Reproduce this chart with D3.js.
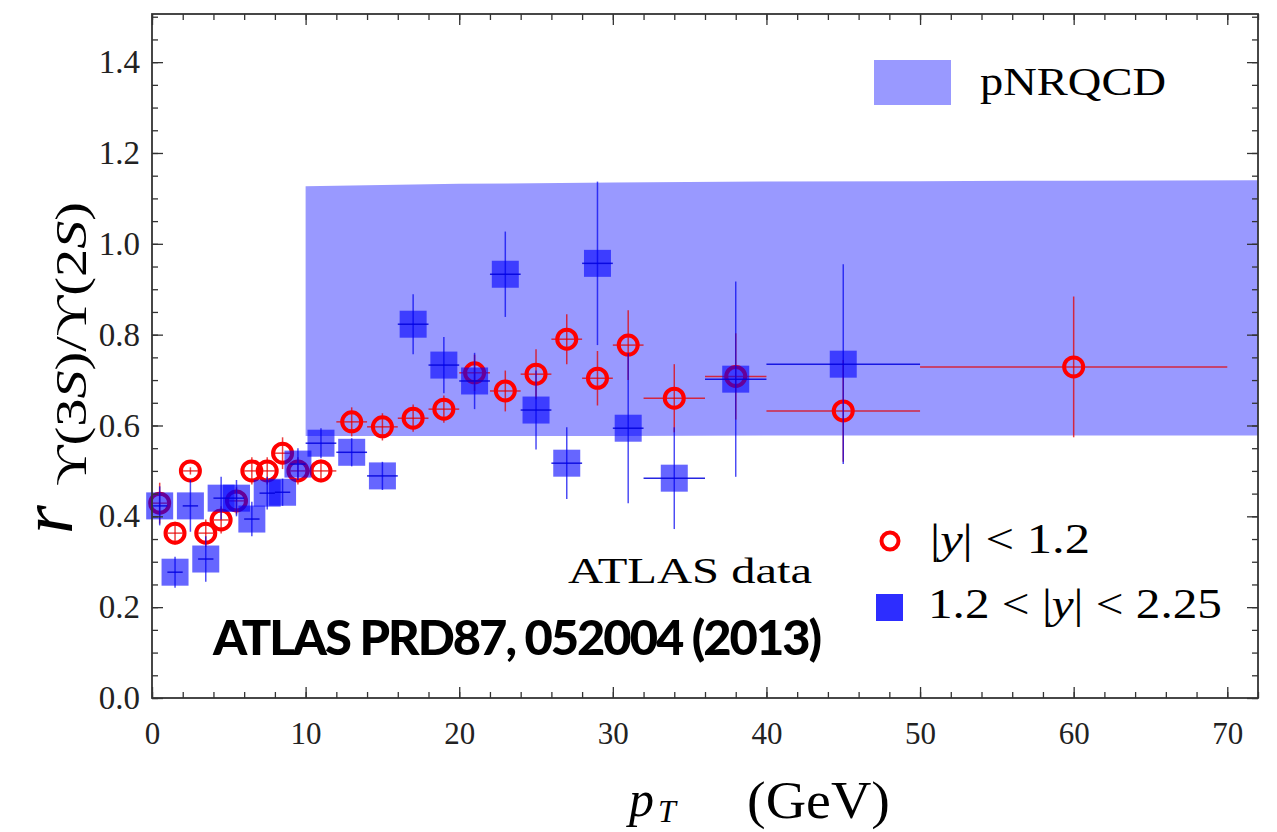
<!DOCTYPE html>
<html>
<head>
<meta charset="utf-8">
<script src="https://cdn.jsdelivr.net/npm/d3@7"></script>
<style>
  body { margin: 0; background: #fff; }
  svg text { font-family: "Liberation Serif", "DejaVu Serif", serif; }
</style>
</head>
<body>
<div id="vis"></div>
<script>
// chart size
var width = 1277;
var height = 832;
var margin = { left: 152, top: 14, right: 19, bottom: 134 };
var plotW = width - margin.left - margin.right;
var plotH = height - margin.top - margin.bottom;

// |y| < 1.2 (red circles)
var redPt     = [0.5, 1.5, 2.5, 3.5, 4.5, 5.5, 6.5, 7.5, 8.5, 9.5, 11, 13, 15, 17, 19, 21, 23, 25, 27, 29, 31, 34, 38, 45, 60];
var redBinLo  = [0, 1, 2, 3, 4, 5, 6, 7, 8, 9, 10, 12, 14, 16, 18, 20, 22, 24, 26, 28, 30, 32, 36, 40, 50];
var redBinHi  = [1, 2, 3, 4, 5, 6, 7, 8, 9, 10, 12, 14, 16, 18, 20, 22, 24, 26, 28, 30, 32, 36, 40, 50, 70];
var redRatio  = [0.429, 0.363, 0.500, 0.363, 0.392, 0.434, 0.500, 0.500, 0.539, 0.500, 0.500, 0.608, 0.597, 0.616, 0.636, 0.716, 0.676, 0.713, 0.790, 0.704, 0.777, 0.660, 0.708, 0.632, 0.729];
var redErr    = [0.045, 0.025, 0.008, 0.030, 0.030, 0.030, 0.030, 0.030, 0.035, 0.030, 0.025, 0.032, 0.030, 0.030, 0.030, 0.040, 0.045, 0.055, 0.055, 0.060, 0.077, 0.075, 0.095, 0.112, 0.155];

// 1.2 < |y| < 2.25 (blue squares)
var bluePt    = [0.5, 1.5, 2.5, 3.5, 4.5, 5.5, 6.5, 7.5, 8.5, 9.5, 11, 13, 15, 17, 19, 21, 23, 25, 27, 29, 31, 34, 38, 45];
var blueBinLo = [0, 1, 2, 3, 4, 5, 6, 7, 8, 9, 10, 12, 14, 16, 18, 20, 22, 24, 26, 28, 30, 32, 36, 40];
var blueBinHi = [1, 2, 3, 4, 5, 6, 7, 8, 9, 10, 12, 14, 16, 18, 20, 22, 24, 26, 28, 30, 32, 36, 40, 50];
var blueRatio = [0.423, 0.277, 0.423, 0.306, 0.440, 0.440, 0.394, 0.451, 0.453, 0.515, 0.561, 0.541, 0.489, 0.823, 0.733, 0.698, 0.933, 0.634, 0.517, 0.957, 0.594, 0.484, 0.702, 0.735];
var blueErr   = [0.043, 0.034, 0.057, 0.050, 0.047, 0.040, 0.038, 0.036, 0.030, 0.035, 0.033, 0.031, 0.031, 0.066, 0.062, 0.062, 0.094, 0.087, 0.079, 0.180, 0.165, 0.112, 0.215, 0.220];

// pNRQCD band
var bandPt    = [10, 20, 30, 40, 50, 60, 72];
var bandLow   = [0.577, 0.577, 0.577, 0.578, 0.578, 0.578, 0.578];
var bandHigh  = [1.127, 1.132, 1.135, 1.137, 1.138, 1.139, 1.140];

var xTicks = [0, 10, 20, 30, 40, 50, 60, 70];
var yTicks = [0.0, 0.2, 0.4, 0.6, 0.8, 1.0, 1.2, 1.4];

var bandColor = '#9999ff';

var svg = d3.select('#vis').append('svg')
  .attr('width', width)
  .attr('height', height);

var g = svg.append('g')
  .attr('transform', 'translate(' + margin.left + ',' + margin.top + ')');

var x = d3.scaleLinear().domain([0, 72]).range([0, plotW]);
var y = d3.scaleLinear().domain([0, 1.506]).range([plotH, 0]);

g.append('clipPath').attr('id', 'clip')
  .append('rect').attr('width', plotW).attr('height', plotH);

// band
var band = bandPt.map(function (d, i) { return { pt: d, lo: bandLow[i], hi: bandHigh[i] }; });
g.append('path')
  .datum(band)
  .attr('clip-path', 'url(#clip)')
  .attr('fill', bandColor)
  .attr('d', d3.area()
    .x(function (d) { return x(d.pt); })
    .y0(function (d) { return y(d.lo); })
    .y1(function (d) { return y(d.hi); }));

// build point objects
var red = redPt.map(function (d, i) {
  return { pt: d, lo: redBinLo[i], hi: redBinHi[i], v: redRatio[i], e: redErr[i] };
});
var blue = bluePt.map(function (d, i) {
  return { pt: d, lo: blueBinLo[i], hi: blueBinHi[i], v: blueRatio[i], e: blueErr[i] };
});

// red error bars + circles
var redG = g.append('g');
redG.selectAll('.rex').data(red).enter().append('line')
  .attr('x1', function (d) { return x(d.lo); })
  .attr('x2', function (d) { return x(d.hi); })
  .attr('y1', function (d) { return y(d.v); })
  .attr('y2', function (d) { return y(d.v); })
  .attr('stroke', 'rgba(230,0,0,0.75)')
  .attr('stroke-width', 1.5);
redG.selectAll('.rey').data(red).enter().append('line')
  .attr('x1', function (d) { return x(d.pt); })
  .attr('x2', function (d) { return x(d.pt); })
  .attr('y1', function (d) { return y(d.v - d.e); })
  .attr('y2', function (d) { return y(d.v + d.e); })
  .attr('stroke', 'rgba(230,0,0,0.75)')
  .attr('stroke-width', 1.5);
redG.selectAll('circle').data(red).enter().append('circle')
  .attr('cx', function (d) { return x(d.pt); })
  .attr('cy', function (d) { return y(d.v); })
  .attr('r', 9.5)
  .attr('fill', 'none')
  .attr('stroke', '#ff0000')
  .attr('stroke-width', 4);

// blue squares + error bars
var blueG = g.append('g');
var sq = 27;
blueG.selectAll('rect').data(blue).enter().append('rect')
  .attr('x', function (d) { return x(d.pt) - sq / 2; })
  .attr('y', function (d) { return y(d.v) - sq / 2; })
  .attr('width', sq)
  .attr('height', sq)
  .attr('fill', 'rgba(0,0,255,0.6)');
blueG.selectAll('.bex').data(blue).enter().append('line')
  .attr('x1', function (d) { return x(d.lo); })
  .attr('x2', function (d) { return x(d.hi); })
  .attr('y1', function (d) { return y(d.v); })
  .attr('y2', function (d) { return y(d.v); })
  .attr('stroke', 'rgba(0,0,220,0.85)')
  .attr('stroke-width', 1.5);
blueG.selectAll('.bey').data(blue).enter().append('line')
  .attr('x1', function (d) { return x(d.pt); })
  .attr('x2', function (d) { return x(d.pt); })
  .attr('y1', function (d) { return y(d.v - d.e); })
  .attr('y2', function (d) { return y(d.v + d.e); })
  .attr('stroke', 'rgba(0,0,240,0.7)')
  .attr('stroke-width', 1.5);

// axes: major + minor ticks pointing inward on all 4 sides
function styleAxis(sel) {
  sel.select('.domain').remove();
  sel.selectAll('line').attr('stroke', '#333').attr('stroke-width', 1.3);
  sel.selectAll('text').attr('fill', '#222').style('font-family', '"Liberation Serif", serif');
}
var xMinor = d3.range(0, 73, 2);
var yMinor = d3.range(0, 1.51, 0.05);

g.append('g').attr('transform', 'translate(0,' + plotH + ')')
  .call(d3.axisBottom(x).tickValues(xTicks).tickSize(-11).tickPadding(24).tickFormat(d3.format('d')))
  .call(styleAxis)
  .selectAll('text').style('font-size', '31px');
g.append('g').attr('transform', 'translate(0,' + plotH + ')')
  .call(d3.axisBottom(x).tickValues(xMinor).tickSize(-6).tickFormat(''))
  .call(styleAxis);
g.append('g')
  .call(d3.axisTop(x).tickValues(xTicks).tickSize(-11).tickFormat(''))
  .call(styleAxis);
g.append('g')
  .call(d3.axisTop(x).tickValues(xMinor).tickSize(-6).tickFormat(''))
  .call(styleAxis);

g.append('g')
  .call(d3.axisLeft(y).tickValues(yTicks).tickSize(-11).tickPadding(12).tickFormat(d3.format('.1f')))
  .call(styleAxis)
  .selectAll('text').style('font-size', '33px');
g.append('g')
  .call(d3.axisLeft(y).tickValues(yMinor).tickSize(-6).tickFormat(''))
  .call(styleAxis);
g.append('g').attr('transform', 'translate(' + plotW + ',0)')
  .call(d3.axisRight(y).tickValues(yTicks).tickSize(-11).tickFormat(''))
  .call(styleAxis);
g.append('g').attr('transform', 'translate(' + plotW + ',0)')
  .call(d3.axisRight(y).tickValues(yMinor).tickSize(-6).tickFormat(''))
  .call(styleAxis);

// frame
g.append('rect')
  .attr('width', plotW).attr('height', plotH)
  .attr('fill', 'none')
  .attr('stroke', '#333')
  .attr('stroke-width', 1.8);

// legend
g.append('rect')
  .attr('x', 874 - margin.left).attr('y', 60 - margin.top)
  .attr('width', 77).attr('height', 45)
  .attr('fill', bandColor);
g.append('text')
  .attr('x', 980 - margin.left).attr('y', 95 - margin.top)
  .attr('textLength', 186).attr('lengthAdjust', 'spacingAndGlyphs')
  .style('font-size', '40px')
  .text('pNRQCD');

g.append('circle')
  .attr('cx', 890 - margin.left).attr('cy', 541 - margin.top)
  .attr('r', 8.5).attr('fill', 'none')
  .attr('stroke', '#ff0000').attr('stroke-width', 4);
var t1 = g.append('text')
  .attr('x', 930 - margin.left).attr('y', 553 - margin.top)
  .attr('textLength', 160).attr('lengthAdjust', 'spacingAndGlyphs')
  .style('font-size', '43px');
t1.append('tspan').text('|');
t1.append('tspan').style('font-style', 'italic').text('y');
t1.append('tspan').text('| < 1.2');

g.append('rect')
  .attr('x', 876 - margin.left).attr('y', 594 - margin.top)
  .attr('width', 27).attr('height', 27)
  .attr('fill', '#2d2dff');
var t2 = g.append('text')
  .attr('x', 928 - margin.left).attr('y', 618 - margin.top)
  .attr('textLength', 294).attr('lengthAdjust', 'spacingAndGlyphs')
  .style('font-size', '43px');
t2.append('tspan').text('1.2 < |');
t2.append('tspan').style('font-style', 'italic').text('y');
t2.append('tspan').text('| < 2.25');

// annotations
g.append('text')
  .attr('x', 568 - margin.left).attr('y', 583 - margin.top)
  .attr('textLength', 244).attr('lengthAdjust', 'spacingAndGlyphs')
  .style('font-size', '36px')
  .text('ATLAS data');
g.append('text')
  .attr('x', 213 - margin.left).attr('y', 655 - margin.top)
  .attr('textLength', 607).attr('lengthAdjust', 'spacingAndGlyphs')
  .style('font-family', 'Lato, "Open Sans", sans-serif')
  .style('font-weight', 900)
  .style('font-size', '48px')
  .style('letter-spacing', '-2px')
  .text('ATLAS PRD87, 052004 (2013)');

// axis titles
svg.append('text')
  .attr('transform', 'translate(72,534) rotate(-90)')
  .style('font-size', '74px')
  .style('font-style', 'italic')
  .text('r');
var ys = svg.append('text')
  .attr('transform', 'translate(86,486) rotate(-90)')
  .attr('textLength', 284).attr('lengthAdjust', 'spacingAndGlyphs')
  .style('font-size', '44px');
ys.append('tspan').text('\u03D2(3');
ys.append('tspan').style('font-style', 'italic').text('S');
ys.append('tspan').text(')/\u03D2(2');
ys.append('tspan').style('font-style', 'italic').text('S');
ys.append('tspan').text(')');

svg.append('text')
  .attr('x', 629).attr('y', 816)
  .style('font-size', '50px')
  .style('font-style', 'italic')
  .text('p');
svg.append('text')
  .attr('x', 658).attr('y', 822)
  .style('font-size', '32px')
  .style('font-style', 'italic')
  .text('T');
svg.append('text')
  .attr('x', 747).attr('y', 818)
  .attr('textLength', 143).attr('lengthAdjust', 'spacingAndGlyphs')
  .style('font-size', '52px')
  .text('(GeV)');
</script>
</body>
</html>
